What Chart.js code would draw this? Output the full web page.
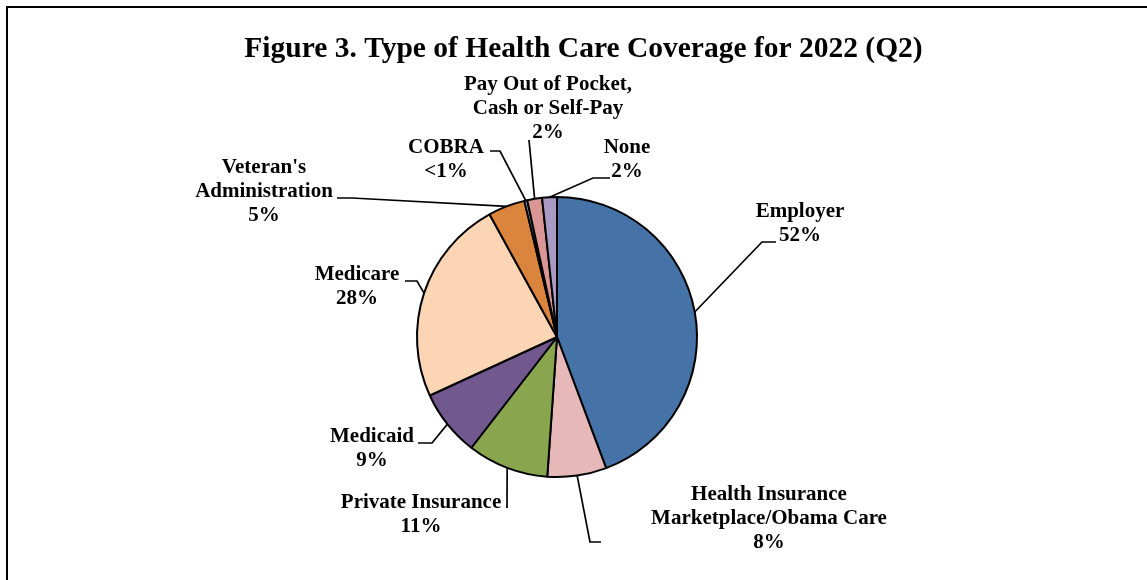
<!DOCTYPE html>
<html>
<head>
<meta charset="utf-8">
<script src="https://cdn.jsdelivr.net/npm/chart.js@4.4.1/dist/chart.umd.min.js"></script>
<style>
  html, body { margin: 0; padding: 0; background: #fff; overflow: hidden; }
  #wrap { position: relative; width: 1147px; height: 580px; }
  #frame {
    position: absolute; left: 6px; top: 6px; width: 1200px; height: 640px;
    border-top: 2px solid #000; border-left: 2px solid #000;
  }
  canvas { position: absolute; left: 0; top: 0; }
</style>
</head>
<body>
<div id="wrap">
  <div id="frame"></div>
  <canvas id="coverageChart" width="1147" height="580"></canvas>
</div>
<script>
// données (% des répondants)
const categories = [
  "Employer",
  "Health Insurance Marketplace/Obama Care",
  "Private Insurance",
  "Medicaid",
  "Medicare",
  "Veteran's Administration",
  "COBRA",
  "Pay Out of Pocket, Cash or Self-Pay",
  "None"
];
const shares = [52, 8, 11, 9, 28, 5, 0.4, 2, 2];
const shareLabels = ["52%", "8%", "11%", "9%", "28%", "5%", "<1%", "2%", "2%"];
const labelLines = [
  ["Employer"],
  ["Health Insurance", "Marketplace/Obama Care"],
  ["Private Insurance"],
  ["Medicaid"],
  ["Medicare"],
  ["Veteran's", "Administration"],
  ["COBRA"],
  ["Pay Out of Pocket,", "Cash or Self-Pay"],
  ["None"]
];
const colors = ["#4572A7", "#E6B9B8", "#89A54E", "#71588F", "#FCD5B5",
                "#DB843D", "#93A9CF", "#D99694", "#A99BC4"];

// placement des étiquettes, relatif au centre du camembert
// tx,ty : centre du texte (1re ligne) ; pts : coude puis fin du trait
const labelLayout = [
  { tx: 243, ty: -125, pts: [[205, -95], [219, -95]] },
  { tx: 212, ty: 158, pts: [[33, 205], [44, 205]] },
  { tx: -136, ty: 166, pts: [[-50, 171]] },
  { tx: -185, ty: 100, pts: [[-125, 106], [-139, 106]] },
  { tx: -200, ty: -62, pts: [[-140, -56], [-152, -56]] },
  { tx: -293, ty: -169, pts: [[-205, -139], [-220, -139]] },
  { tx: -111, ty: -189, pts: [[-57, -186], [-67, -186]] },
  { tx: -9, ty: -252, pts: [[-28, -197]] },
  { tx: 70, ty: -189, pts: [[36, -159], [53, -159]] }
];

const FONT = "'Liberation Serif', 'Times New Roman', serif";
const LINE_H = 24;

const pieLabels = {
  id: 'pieLabels',
  afterDatasetsDraw(chart) {
    const ctx = chart.ctx;
    const arcs = chart.getDatasetMeta(0).data;
    ctx.save();
    // titre
    ctx.fillStyle = '#000';
    ctx.font = "bold 29.5px " + FONT;
    ctx.textAlign = 'center';
    ctx.textBaseline = 'alphabetic';
    ctx.fillText("Figure 3. Type of Health Care Coverage for 2022 (Q2)", chart.width / 2 + 10, 57);

    arcs.forEach((arc, i) => {
      const p = arc.getProps(['x', 'y', 'startAngle', 'endAngle', 'outerRadius'], true);
      const mid = (p.startAngle + p.endAngle) / 2;
      const lay = labelLayout[i];
      // trait de rappel
      ctx.strokeStyle = '#000';
      ctx.lineWidth = 1.7;
      ctx.beginPath();
      ctx.moveTo(p.x + p.outerRadius * Math.cos(mid), p.y + p.outerRadius * Math.sin(mid));
      lay.pts.forEach(pt => ctx.lineTo(p.x + pt[0], p.y + pt[1]));
      ctx.stroke();
      // texte
      const lines = labelLines[i].concat([shareLabels[i]]);
      ctx.font = "bold 21px " + FONT;
      ctx.textAlign = 'center';
      ctx.textBaseline = 'middle';
      lines.forEach((t, k) => ctx.fillText(t, p.x + lay.tx, p.y + lay.ty + k * LINE_H));
    });
    ctx.restore();
  }
};

new Chart(document.getElementById('coverageChart'), {
  type: 'pie',
  data: {
    labels: categories,
    datasets: [{
      data: shares,
      backgroundColor: colors,
      borderColor: '#000',
      borderWidth: 2
    }]
  },
  options: {
    responsive: false,
    animation: false,
    radius: 140,
    layout: { padding: { left: 417, right: 450, top: 197, bottom: 103 } },
    plugins: {
      legend: { display: false },
      tooltip: { enabled: false },
      title: { display: false }
    }
  },
  plugins: [pieLabels]
});
</script>
</body>
</html>
